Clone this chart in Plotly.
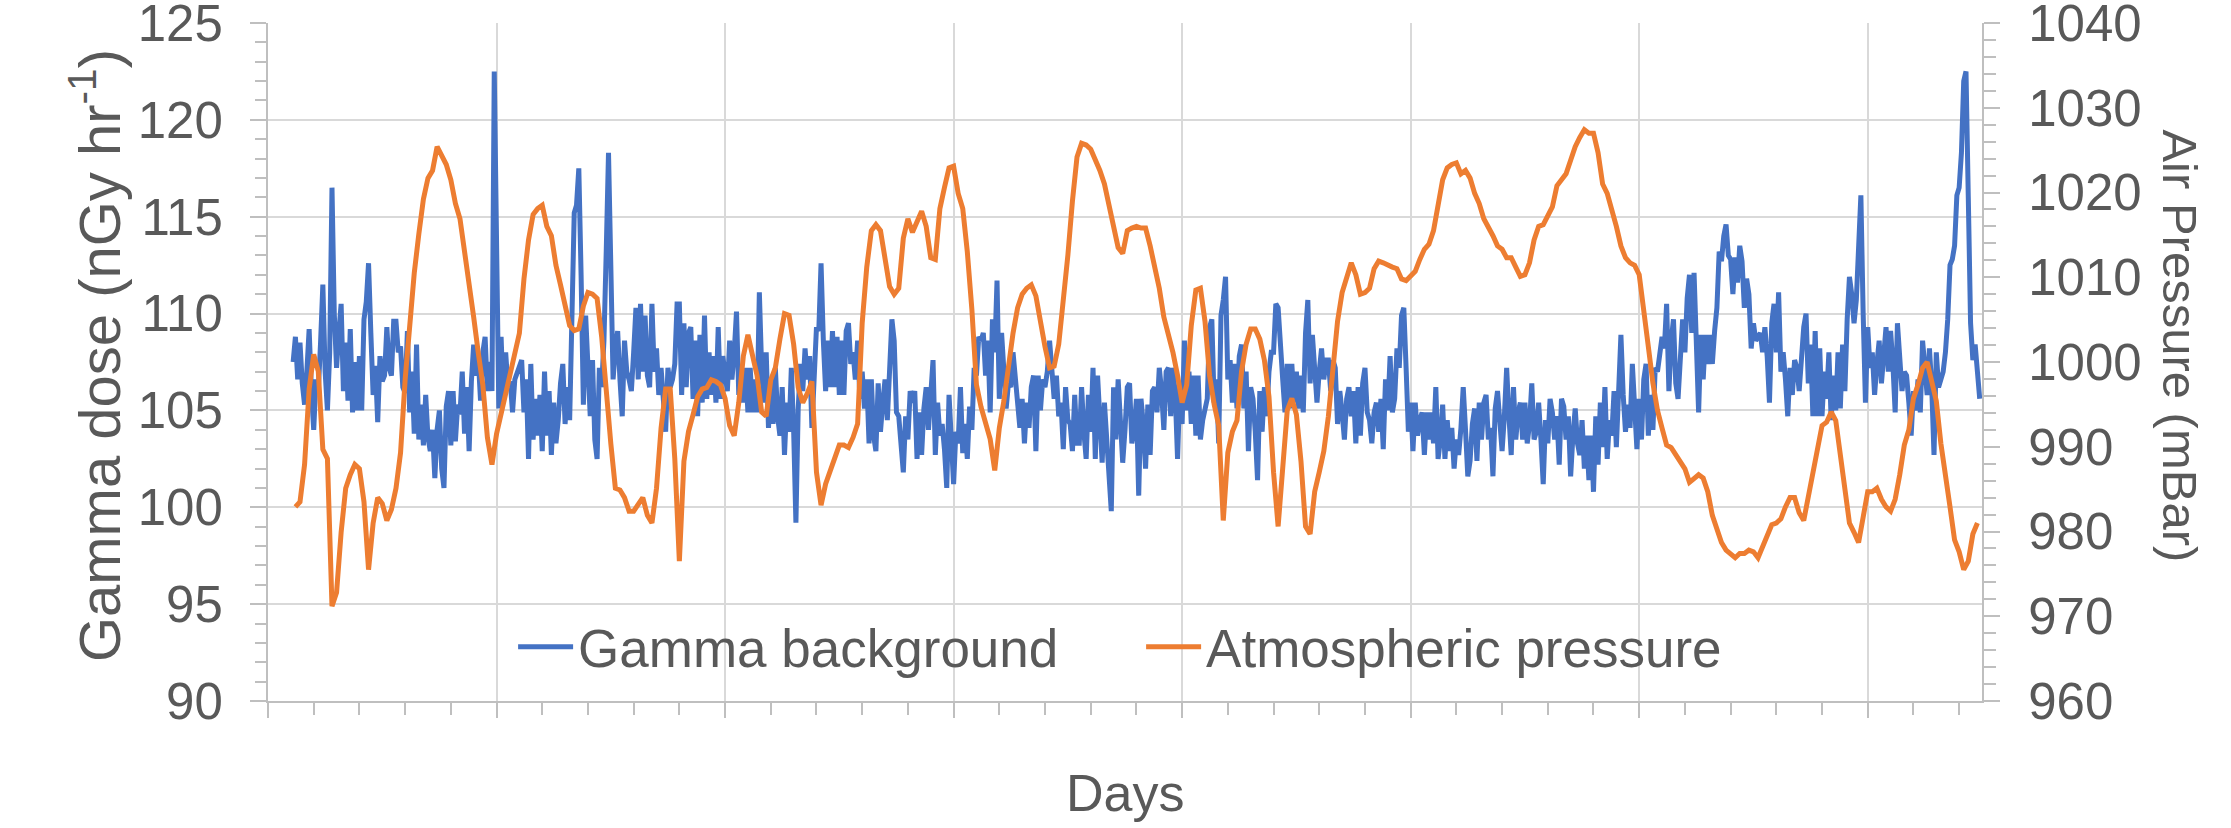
import plotly.graph_objects as go

# ---------------- data ----------------
# Gamma background dose rate (nGy/h), sampled every 0.05 day.
# Row k holds day k (row 0 starts at day 0.55).
GAMMA_FIRST_DAY_START = 0.55
GAMMA_STEP = 0.05
gamma_by_day = [
    [107.5, 108.8, 106.6, 108.5, 106.4, 105.3, 107.0, 109.2, 106.0],
    [104.0, 106.6, 106.0, 108.5, 111.5, 107.0, 105.0, 108.0, 116.5, 110.0, 107.2, 109.0, 110.5, 106.0, 108.5, 105.5, 109.2, 104.9, 107.5, 105.0],
    [107.8, 105.0, 109.7, 110.6, 112.6, 109.0, 105.8, 107.3, 104.4, 107.8, 106.5, 106.8, 109.3, 107.2, 106.8, 109.6, 109.6, 108.0, 108.3, 106.2],
    [105.9, 109.1, 104.9, 107.0, 103.8, 108.4, 103.5, 105.3, 103.2, 105.8, 103.6, 102.9, 104.0, 101.5, 104.0, 105.0, 102.0, 101.0, 105.2, 106.0],
    [103.2, 106.0, 103.4, 105.3, 104.8, 107.0, 103.8, 106.2, 102.9, 106.5, 108.4, 106.8, 107.7, 105.5, 108.0, 108.8, 106.0, 107.5, 106.0, 122.5],
    [112.0, 105.1, 108.8, 105.4, 108.0, 106.2, 106.5, 104.9, 106.6, 107.0, 107.2, 107.6, 104.9, 106.6, 102.5, 107.4, 103.5, 105.6, 103.7, 105.8],
    [102.9, 107.0, 103.7, 106.0, 102.7, 105.4, 103.3, 104.5, 106.4, 107.4, 104.3, 106.2, 104.5, 109.5, 115.2, 115.6, 117.5, 112.0, 105.3, 109.9],
    [106.6, 104.7, 107.6, 103.5, 102.5, 107.2, 106.2, 108.6, 113.2, 118.3, 112.5, 106.6, 108.2, 109.1, 106.6, 104.7, 108.6, 107.0, 106.6, 106.0],
    [108.0, 110.3, 106.6, 110.5, 107.0, 109.9, 106.8, 106.2, 110.5, 107.0, 108.2, 105.8, 107.2, 105.2, 103.9, 107.2, 106.2, 106.6, 107.4, 110.5],
    [110.5, 105.8, 109.5, 106.2, 109.0, 109.3, 105.6, 108.6, 104.7, 108.9, 105.4, 109.9, 105.6, 108.0, 105.8, 107.8, 105.4, 109.3, 105.6, 107.8],
    [106.6, 106.0, 108.6, 106.6, 108.0, 110.1, 105.8, 107.2, 105.4, 107.2, 104.9, 107.2, 104.9, 106.6, 104.9, 111.1, 107.2, 105.4, 108.0, 104.1],
    [106.6, 104.3, 107.2, 104.7, 103.7, 106.2, 102.7, 105.4, 103.9, 107.2, 104.0, 99.2, 105.1, 107.4, 106.0, 108.2, 106.6, 107.8, 104.1, 106.8],
    [109.3, 109.1, 112.6, 108.6, 106.0, 108.6, 106.2, 109.1, 106.2, 108.8, 105.8, 108.6, 105.8, 109.1, 109.5, 107.4, 108.0, 106.6, 108.6, 105.6],
    [107.0, 105.1, 106.6, 103.3, 106.6, 103.7, 102.9, 106.4, 103.9, 105.4, 106.6, 104.5, 107.0, 109.7, 108.6, 104.9, 104.7, 102.9, 101.8, 104.7],
    [103.5, 106.0, 105.4, 106.0, 102.5, 104.9, 102.7, 105.1, 106.2, 104.0, 106.4, 107.6, 102.7, 105.4, 103.7, 104.3, 103.0, 101.0, 105.8, 103.5],
    [101.2, 103.9, 103.3, 106.2, 102.8, 104.3, 102.5, 105.2, 104.0, 107.2, 106.8, 108.8, 108.6, 109.0, 106.8, 108.6, 104.9, 109.7, 108.0, 111.7],
    [105.6, 109.0, 107.0, 105.1, 106.4, 106.2, 108.0, 106.6, 105.4, 104.1, 105.6, 103.3, 105.4, 104.1, 106.2, 106.8, 102.9, 106.8, 105.0, 106.6],
    [106.2, 107.0, 108.6, 106.6, 105.6, 106.8, 104.7, 105.4, 103.0, 106.2, 104.5, 104.3, 102.9, 105.8, 103.3, 103.3, 106.2, 103.9, 102.5, 105.8],
    [103.9, 107.2, 102.5, 106.8, 104.1, 102.3, 105.4, 103.3, 101.5, 99.8, 106.2, 103.5, 106.6, 103.9, 102.3, 104.0, 106.2, 106.4, 103.3, 104.0],
    [105.6, 100.6, 105.6, 104.3, 102.0, 105.3, 102.7, 106.0, 106.2, 104.9, 107.2, 106.0, 104.0, 107.0, 107.2, 104.7, 107.2, 105.8, 102.5, 106.2],
    [104.3, 108.6, 105.0, 107.0, 104.3, 106.8, 103.7, 106.8, 103.5, 104.5, 105.1, 105.6, 109.3, 109.7, 105.4, 106.6, 103.3, 109.9, 110.7, 111.9],
    [106.6, 107.6, 105.4, 107.4, 105.1, 107.8, 108.4, 105.1, 107.0, 102.9, 106.2, 105.6, 103.9, 101.4, 106.0, 103.9, 106.2, 104.7, 107.0, 108.0],
    [108.0, 110.5, 110.3, 108.0, 106.6, 104.9, 107.4, 105.1, 107.4, 105.4, 107.0, 105.1, 106.8, 104.9, 109.0, 110.7, 106.4, 108.9, 106.6, 105.4],
    [107.0, 108.2, 106.6, 107.6, 107.6, 106.0, 107.6, 107.2, 104.3, 106.0, 104.9, 103.5, 105.6, 106.2, 104.7, 106.0, 103.3, 106.2, 103.7, 106.4],
    [107.2, 104.9, 104.5, 103.3, 104.9, 105.4, 103.9, 105.6, 103.0, 106.6, 105.0, 107.8, 104.9, 105.6, 108.2, 107.2, 109.9, 110.3, 107.2, 103.9],
    [105.4, 102.9, 105.4, 103.7, 104.5, 104.9, 102.7, 104.9, 103.5, 104.9, 103.3, 106.2, 102.5, 103.5, 105.3, 102.5, 104.5, 102.9, 104.1, 102.0],
    [103.5, 102.7, 104.1, 106.2, 104.0, 101.6, 102.4, 104.3, 105.1, 102.4, 105.4, 103.5, 105.4, 105.8, 103.5, 104.1, 101.6, 105.1, 106.0, 104.7],
    [102.9, 104.7, 107.2, 104.7, 102.7, 106.2, 103.5, 104.9, 105.4, 103.5, 105.4, 103.3, 104.3, 106.4, 103.5, 103.9, 105.4, 103.5, 101.2, 104.5],
    [103.3, 105.6, 104.9, 103.5, 104.7, 102.2, 105.6, 105.2, 103.5, 104.7, 101.6, 103.7, 105.1, 103.3, 102.7, 104.5, 102.0, 103.7, 101.4, 103.7],
    [100.8, 104.7, 102.2, 105.4, 103.1, 106.2, 102.5, 104.5, 103.7, 106.0, 103.1, 106.0, 108.9, 105.8, 103.9, 105.3, 104.1, 107.4, 104.7, 103.0],
    [105.6, 103.5, 106.6, 107.4, 103.7, 105.8, 104.0, 107.2, 107.0, 107.8, 108.8, 108.2, 110.5, 106.0, 108.6, 109.7, 106.4, 105.6, 108.0, 109.7],
    [108.0, 110.8, 112.0, 109.0, 112.1, 108.8, 104.9, 108.9, 106.6, 108.9, 107.4, 108.9, 107.4, 109.1, 110.3, 113.2, 112.7, 114.0, 114.6, 113.0],
    [112.8, 111.0, 112.9, 111.6, 113.5, 112.7, 110.3, 111.8, 111.0, 108.2, 109.5, 108.6, 108.8, 109.0, 108.0, 109.3, 107.8, 105.4, 109.5, 110.5],
    [108.0, 111.1, 107.0, 108.0, 106.6, 104.7, 107.2, 105.8, 107.6, 107.2, 106.0, 108.0, 109.3, 110.0, 106.4, 108.4, 104.7, 109.1, 104.7, 108.2],
    [104.7, 107.0, 105.6, 108.0, 104.5, 106.8, 105.0, 108.0, 105.1, 108.4, 106.0, 109.7, 111.9, 111.0, 109.5, 110.7, 113.0, 116.1, 110.0, 105.4],
    [109.3, 107.2, 108.0, 105.8, 107.4, 108.6, 106.4, 108.0, 109.3, 107.0, 109.1, 107.4, 104.9, 109.5, 107.6, 106.0, 107.0, 106.8, 105.4, 103.7],
    [106.0, 105.0, 106.6, 104.9, 108.6, 107.0, 105.8, 108.2, 106.2, 102.7, 108.0, 106.2, 106.6, 107.0, 108.0, 109.7, 112.5, 112.8, 113.5, 116.1],
    [116.5, 118.3, 122.0, 122.5, 116.0, 109.5, 107.6, 108.4, 107.0, 105.6],
]

# Atmospheric pressure (mBar), sampled every 0.1 day.
# Row k holds day k (row 0 starts at day 0.6).
PRESSURE_FIRST_DAY_START = 0.6
PRESSURE_STEP = 0.1
pressure_by_day = [
    [982.9, 983.5, 987.9, 996.8],
    [1000.9, 998.9, 989.7, 988.6, 971.2, 972.8, 979.9, 985.1, 986.7, 987.9],
    [987.4, 983.5, 975.5, 981.0, 984.0, 983.3, 981.3, 982.6, 985.1, 989.3],
    [997.9, 1004.6, 1010.5, 1015.1, 1019.2, 1021.7, 1022.6, 1025.4, 1024.2, 1023.3],
    [1021.5, 1018.7, 1016.9, 1013.3, 1009.6, 1005.3, 1001.1, 997.3, 991.1, 987.9],
    [991.5, 993.8, 996.3, 998.4, 1000.5, 1003.4, 1009.8, 1014.4, 1017.4, 1018.1],
    [1018.5, 1016.0, 1014.9, 1011.4, 1009.1, 1006.9, 1004.3, 1003.7, 1003.9, 1006.6],
    [1008.2, 1008.0, 1007.5, 1003.0, 996.3, 990.4, 985.1, 984.9, 984.0, 982.4],
    [982.4, 983.3, 984.0, 981.9, 981.0, 985.1, 992.2, 996.8, 996.8, 988.6],
    [976.5, 988.3, 991.8, 993.8, 995.9, 996.8, 997.0, 997.9, 997.7, 997.3],
    [995.7, 992.5, 991.3, 995.2, 1000.7, 1003.2, 1000.7, 998.4, 994.1, 993.6],
    [997.9, 999.3, 1002.7, 1005.7, 1005.5, 1002.1, 997.0, 995.2, 996.3, 997.7],
    [987.0, 983.1, 985.6, 987.2, 988.6, 990.2, 990.2, 989.9, 991.1, 992.7],
    [1004.6, 1011.2, 1015.5, 1016.2, 1015.5, 1012.6, 1008.9, 1008.0, 1008.7, 1014.6],
    [1016.9, 1015.3, 1016.7, 1017.8, 1016.0, 1012.3, 1012.1, 1018.1, 1020.6, 1022.9],
    [1023.1, 1019.9, 1018.1, 1013.0, 1006.2, 997.3, 994.7, 992.9, 990.9, 987.2],
    [992.2, 995.4, 999.5, 1003.4, 1006.4, 1008.0, 1008.7, 1009.1, 1007.8, 1004.6],
    [1001.8, 999.3, 999.5, 1002.1, 1007.1, 1012.6, 1019.0, 1024.2, 1025.8, 1025.6],
    [1025.1, 1024.0, 1022.6, 1021.0, 1018.5, 1016.2, 1013.5, 1012.8, 1015.5, 1015.8],
    [1016.0, 1015.8, 1015.8, 1013.7, 1011.2, 1008.7, 1005.3, 1003.4, 1001.1, 998.4],
    [995.2, 997.3, 1004.3, 1008.5, 1008.7, 1004.8, 998.4, 995.0, 992.5, 981.3],
    [989.3, 991.8, 993.1, 998.9, 1002.1, 1003.9, 1003.9, 1002.7, 1000.2, 995.9],
    [987.0, 980.6, 988.3, 994.3, 995.7, 993.8, 988.3, 980.6, 979.7, 984.7],
    [987.0, 989.5, 993.6, 999.8, 1004.8, 1008.2, 1010.1, 1011.7, 1010.3, 1008.0],
    [1008.2, 1008.7, 1011.0, 1011.9, 1011.7, 1011.4, 1011.2, 1011.0, 1009.8, 1009.6],
    [1010.1, 1010.7, 1012.1, 1013.3, 1013.9, 1015.5, 1018.5, 1021.5, 1022.9, 1023.3],
    [1023.5, 1022.2, 1022.6, 1021.7, 1019.9, 1018.7, 1016.9, 1016.0, 1014.9, 1013.7],
    [1013.3, 1012.3, 1012.3, 1011.2, 1010.1, 1010.3, 1011.7, 1014.4, 1016.0, 1016.2],
    [1017.4, 1018.3, 1020.8, 1021.5, 1022.2, 1023.8, 1025.4, 1026.5, 1027.4, 1027.0],
    [1027.0, 1024.7, 1021.0, 1019.9, 1018.1, 1016.0, 1013.7, 1012.3, 1011.7, 1011.4],
    [1010.3, 1005.5, 1001.8, 997.5, 994.3, 992.2, 990.2, 989.9, 989.0, 988.3],
    [987.4, 985.8, 986.3, 986.7, 986.3, 984.7, 981.9, 980.3, 978.7, 977.8],
    [977.4, 976.9, 977.4, 977.4, 977.8, 977.6, 976.9, 978.3, 979.7, 980.8],
    [981.0, 981.5, 982.9, 984.0, 984.0, 982.2, 981.3, 984.0, 987.4, 989.7],
    [992.5, 992.9, 994.1, 993.1, 988.8, 985.1, 981.0, 979.9, 978.7, 981.7],
    [984.7, 984.7, 985.1, 983.8, 982.9, 982.4, 983.8, 986.7, 990.2, 992.0],
    [995.7, 997.3, 999.3, 1000.0, 997.9, 995.4, 990.4, 987.0, 982.9, 979.0],
    [977.6, 975.5, 976.5, 979.7, 981.0],
]

series_names = ["Gamma background", "Atmospheric pressure"]
left_ticks = [90, 95, 100, 105, 110, 115, 120, 125]
right_ticks = [960, 970, 980, 990, 1000, 1010, 1020, 1030, 1040]
x_range = [0, 37.5]


def flatten(rows, first_start, step):
    xs, ys = [], []
    for day, row in enumerate(rows):
        start = first_start if day == 0 else float(day)
        for j, v in enumerate(row):
            xs.append(round(start + step * j, 3))
            ys.append(v)
    return xs, ys


gx, gy = flatten(gamma_by_day, GAMMA_FIRST_DAY_START, GAMMA_STEP)
px, py = flatten(pressure_by_day, PRESSURE_FIRST_DAY_START, PRESSURE_STEP)

# ---------------- styling ----------------
BLUE = "#4472C4"
ORANGE = "#ED7D31"
TEXT = "#595959"
GRID = "#d9d9d9"
AXIS = "#bfbfbf"
FONT = "Liberation Sans, Arial, sans-serif"

fig = go.Figure()
fig.add_trace(go.Scatter(x=gx, y=gy, mode="lines", name=series_names[0],
                         line=dict(color=BLUE, width=5), yaxis="y"))
fig.add_trace(go.Scatter(x=px, y=py, mode="lines", name=series_names[1],
                         line=dict(color=ORANGE, width=5), yaxis="y2"))

fig.update_layout(
    template="none",
    width=2231, height=828,
    margin=dict(l=268, r=249, t=23, b=127, pad=0),
    paper_bgcolor="white", plot_bgcolor="white",
    font=dict(family=FONT, color=TEXT, size=50),
    showlegend=True,
    legend=dict(orientation="h", x=0.143, xanchor="left", y=0.08, yanchor="middle",
                font=dict(size=53, color=TEXT), bgcolor="rgba(0,0,0,0)",
                itemwidth=55, entrywidth=558, entrywidthmode="pixels",
                traceorder="normal", tracegroupgap=0),
    xaxis=dict(range=x_range, tick0=0, dtick=5, showticklabels=False,
               showgrid=True, gridcolor=GRID, gridwidth=2,
               showline=True, linecolor=AXIS, linewidth=2,
               ticks="outside", ticklen=15, tickwidth=2, tickcolor=AXIS,
               minor=dict(dtick=1, ticks="outside", ticklen=12, tickwidth=2,
                          tickcolor=AXIS, showgrid=False),
               zeroline=False, automargin=False),
    yaxis=dict(range=[90, 125], tickvals=left_ticks, showgrid=True, gridcolor=GRID, gridwidth=2,
               showline=True, linecolor=AXIS, linewidth=2,
               ticks="outside", ticklen=16, tickwidth=2, tickcolor=AXIS,
               minor=dict(dtick=1, ticks="outside", ticklen=11, tickwidth=2,
                          tickcolor=AXIS, showgrid=False),
               tickfont=dict(size=51, color=TEXT), ticklabelstandoff=17,
               ticklabeloverflow="allow",
               zeroline=False, automargin=False),
    yaxis2=dict(range=[960, 1040], tickvals=right_ticks, overlaying="y", side="right",
                showgrid=False, showline=True, linecolor=AXIS, linewidth=2,
                ticks="outside", ticklen=16, tickwidth=2, tickcolor=AXIS,
                minor=dict(dtick=2, ticks="outside", ticklen=12, tickwidth=2,
                           tickcolor=AXIS, showgrid=False),
                tickfont=dict(size=51, color=TEXT), ticklabelstandoff=18,
                ticklabeloverflow="allow",
                zeroline=False, automargin=False),
)

fig.add_annotation(text="Gamma dose (nGy hr<sup>-1</sup>)", xref="paper", yref="paper",
                   x=-0.101, y=0.51, xanchor="center", yanchor="middle", textangle=-90,
                   showarrow=False, font=dict(size=58, color=TEXT, family=FONT))
fig.add_annotation(text="Air Pressure (mBar)", xref="paper", yref="paper",
                   x=1.1155, y=0.523, xanchor="center", yanchor="middle", textangle=90,
                   showarrow=False, font=dict(size=49, color=TEXT, family=FONT))
fig.add_annotation(text="Days", xref="paper", yref="paper",
                   x=0.5, y=-0.1357, xanchor="center", yanchor="middle",
                   showarrow=False, font=dict(size=52, color=TEXT, family=FONT))

fig.write_html("out.html", config={"displayModeBar": False},
               post_script="document.body.style.margin='0';document.body.style.overflow='hidden';")
